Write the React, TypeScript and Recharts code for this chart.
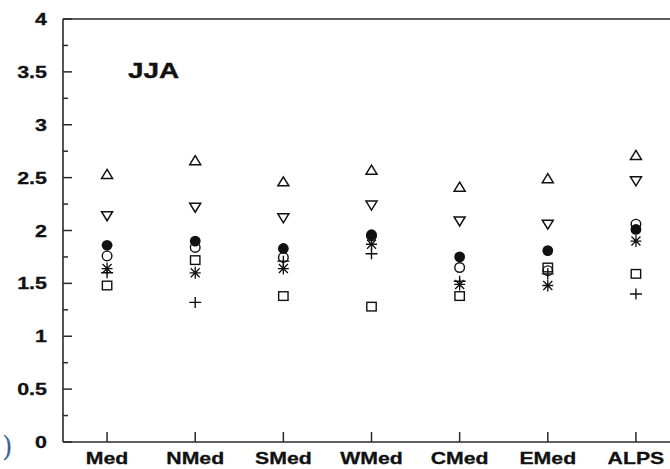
import { ScatterChart, Scatter, XAxis, YAxis } from 'recharts';

const categories = ['Med', 'NMed', 'SMed', 'WMed', 'CMed', 'EMed', 'ALPS'];

// values read per region, one array per marker type
const triUpValues = [2.53, 2.66, 2.46, 2.57, 2.41, 2.49, 2.71];
const triDownValues = [2.14, 2.22, 2.12, 2.24, 2.09, 2.06, 2.47];
const filledCircleValues = [1.86, 1.9, 1.83, 1.96, 1.75, 1.81, 2.01];
const openCircleValues = [1.76, 1.84, 1.745, 1.95, 1.65, 1.62, 2.06];
const squareValues = [1.48, 1.72, 1.38, 1.28, 1.38, 1.65, 1.59];
const starValues = [1.64, 1.6, 1.64, 1.87, 1.49, 1.48, 1.9];
const plusValues = [1.6, 1.32, 1.71, 1.78, 1.52, 1.59, 1.4];

const yTicks = [0, 0.25, 0.5, 0.75, 1, 1.25, 1.5, 1.75, 2, 2.25, 2.5, 2.75, 3, 3.25, 3.5, 3.75, 4];
const xTicks = [1, 2, 3, 4, 5, 6, 7];

const AXIS = '#2a2a2a';
const INK = '#111';
const FONT = '"Liberation Sans", Arial, Helvetica, sans-serif';

const toRows = (values: number[]) => values.map((y, i) => ({ x: i + 1, y }));

const YTick = (props: any) => {
    const { x, y, payload } = props;
    const v = payload.value;
    const major = Math.abs(v * 2 - Math.round(v * 2)) < 1e-6;
    return (
        <g>
            <line x1={x} x2={x + (major ? 9 : 5)} y1={y} y2={y} stroke={AXIS} strokeWidth={1.5} />
            {major && (
                <text
                    transform={`translate(${x - 16},${y + 6}) scale(1.3,1)`}
                    textAnchor="end"
                    fontFamily={FONT}
                    fontWeight="bold"
                    fontSize={16.5}
                    fill={INK}
                    stroke={INK}
                    strokeWidth={0.3}
                >
                    {String(v)}
                </text>
            )}
        </g>
    );
};

const BottomTick = (props: any) => {
    const { x, y, payload } = props;
    return (
        <g>
            <line x1={x} x2={x} y1={y} y2={y - 10} stroke={AXIS} strokeWidth={1.5} />
            <text
                transform={`translate(${x},${y + 22}) scale(1.25,1)`}
                textAnchor="middle"
                fontFamily={FONT}
                fontWeight="bold"
                fontSize={17}
                fill={INK}
                stroke={INK}
                strokeWidth={0.3}
            >
                {categories[payload.value - 1]}
            </text>
        </g>
    );
};

const TopTick = (props: any) => {
    const { x, y } = props;
    return <line x1={x} x2={x} y1={y} y2={y + 9} stroke={AXIS} strokeWidth={1.5} />;
};

// marker shapes
const TriUp = ({ cx, cy }: any) => (
    <path d={`M${cx},${cy - 5} L${cx + 5.5},${cy + 4} L${cx - 5.5},${cy + 4} Z`} fill="none" stroke={INK} strokeWidth={1.5} />
);
const TriDown = ({ cx, cy }: any) => (
    <path d={`M${cx - 5.5},${cy - 4} L${cx + 5.5},${cy - 4} L${cx},${cy + 5} Z`} fill="none" stroke={INK} strokeWidth={1.5} />
);
const FilledCircle = ({ cx, cy }: any) => <circle cx={cx} cy={cy} r={5.4} fill={INK} />;
const OpenCircle = ({ cx, cy }: any) => <circle cx={cx} cy={cy} r={4.8} fill="none" stroke={INK} strokeWidth={1.4} />;
const Square = ({ cx, cy }: any) => (
    <rect x={cx - 4.7} y={cy - 4.3} width={9.4} height={8.6} fill="none" stroke={INK} strokeWidth={1.4} />
);
const Star = ({ cx, cy }: any) => (
    <path
        d={`M${cx},${cy - 6} L${cx},${cy + 6} M${cx - 5.5},${cy} L${cx + 5.5},${cy} M${cx - 4.5},${cy - 4.5} L${cx + 4.5},${cy + 4.5} M${cx - 4.5},${cy + 4.5} L${cx + 4.5},${cy - 4.5}`}
        stroke={INK}
        strokeWidth={1.3}
    />
);
const Plus = ({ cx, cy }: any) => (
    <path d={`M${cx},${cy - 5.5} L${cx},${cy + 5.5} M${cx - 6},${cy} L${cx + 6},${cy}`} stroke={INK} strokeWidth={1.4} />
);

export default function App() {
    return (
        <div
            style={{
                position: 'absolute',
                left: 0,
                top: 0,
                width: 670,
                height: 469,
                overflow: 'hidden',
                background: '#fff',
            }}
        >
            <ScatterChart width={700} height={469} margin={{ top: 0, right: 20, left: 0, bottom: 0 }}>
                <XAxis
                    xAxisId="bottom"
                    dataKey="x"
                    type="number"
                    domain={[0.5, 7.5]}
                    ticks={xTicks}
                    interval={0}
                    orientation="bottom"
                    height={27}
                    tickSize={0}
                    tickMargin={0}
                    tickLine={false}
                    axisLine={{ stroke: AXIS, strokeWidth: 1.6 }}
                    tick={<BottomTick />}
                />
                <XAxis
                    xAxisId="top"
                    dataKey="x"
                    type="number"
                    domain={[0.5, 7.5]}
                    ticks={xTicks}
                    interval={0}
                    orientation="top"
                    height={19}
                    tickSize={0}
                    tickMargin={0}
                    tickLine={false}
                    axisLine={{ stroke: AXIS, strokeWidth: 1.6 }}
                    tick={<TopTick />}
                />
                <YAxis
                    dataKey="y"
                    type="number"
                    domain={[0, 4]}
                    ticks={yTicks}
                    interval={0}
                    width={63}
                    tickSize={0}
                    tickMargin={0}
                    tickLine={false}
                    axisLine={{ stroke: AXIS, strokeWidth: 1.6 }}
                    tick={<YTick />}
                />
                <Scatter xAxisId="bottom" data={toRows(triUpValues)} shape={<TriUp />} isAnimationActive={false} />
                <Scatter xAxisId="bottom" data={toRows(triDownValues)} shape={<TriDown />} isAnimationActive={false} />
                <Scatter xAxisId="bottom" data={toRows(openCircleValues)} shape={<OpenCircle />} isAnimationActive={false} />
                <Scatter xAxisId="bottom" data={toRows(squareValues)} shape={<Square />} isAnimationActive={false} />
                <Scatter xAxisId="bottom" data={toRows(starValues)} shape={<Star />} isAnimationActive={false} />
                <Scatter xAxisId="bottom" data={toRows(plusValues)} shape={<Plus />} isAnimationActive={false} />
                <Scatter xAxisId="bottom" data={toRows(filledCircleValues)} shape={<FilledCircle />} isAnimationActive={false} />
            </ScatterChart>
            <svg
                width={670}
                height={469}
                style={{ position: 'absolute', left: 0, top: 0, pointerEvents: 'none' }}
            >
                <text
                    transform="translate(128,78) scale(1.27,1)"
                    fontFamily={FONT}
                    fontWeight="bold"
                    fontSize={22}
                    fill={INK}
                    stroke={INK}
                    strokeWidth={0.4}
                >
                    JJA
                </text>
                <text x={2} y={456} fontFamily='"DejaVu Serif", serif' fontSize={27} fill="#3b5e9c">
                    )
                </text>
            </svg>
        </div>
    );
}
